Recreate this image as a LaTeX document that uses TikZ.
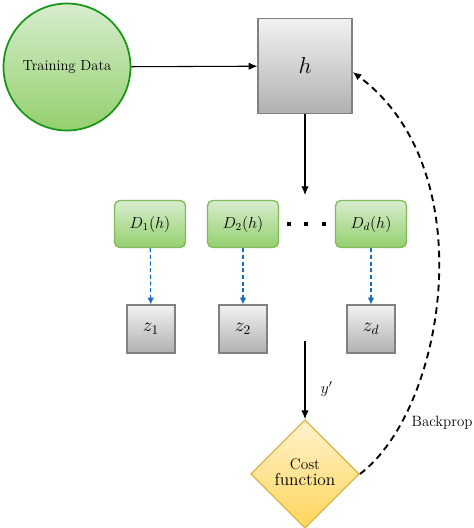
\documentclass[tikz,border=0pt]{standalone}
\usepackage{amsmath}
\usepackage{tikz}
\usetikzlibrary{shapes,shapes.geometric,arrows.meta}
\definecolor{leafgreen}{RGB}{20,150,20}
\definecolor{mossgreen}{RGB}{130,185,90}
\definecolor{depthblue}{RGB}{20,110,190}
\definecolor{costgold}{RGB}{215,180,70}
\definecolor{paletop}{RGB}{215,236,205}
\definecolor{greenbot}{RGB}{148,208,110}
\definecolor{yellowtop}{RGB}{255,242,205}
\definecolor{yellowbot}{RGB}{255,214,90}

\begin{document}
\begin{tikzpicture}[x=0.75pt,y=-0.75pt,font=\normalsize,
	databall/.style={circle,draw=leafgreen,line width=1.3pt,minimum size=127pt*0.75,inner sep=0pt,top color=paletop,bottom color=greenbot},
	graybox/.style={draw=gray,line width=1pt,top color=gray!10!white,bottom color=gray!62!white,inner sep=0pt},
	depthbox/.style={rectangle,rounded corners=4pt,draw=mossgreen,line width=1pt,top color=paletop,bottom color=greenbot,minimum width=71*0.75pt,minimum height=47*0.75pt,inner sep=0pt},
	costdiam/.style={diamond,draw=costgold,line width=1pt,top color=yellowtop,bottom color=yellowbot,minimum width=105*0.75pt,minimum height=107*0.75pt,inner sep=0pt,aspect=1},
	bigtip/.style={-{Latex[length=6.5pt,width=5.5pt]}},
	zdash/.style={-{Latex[length=5pt,width=5pt]},densely dashed,depthblue,thick}]
	\useasboundingbox (0,0) rectangle (474,528);

	% draw data and model
	\node[databall] (data) at (67,67) {\fontsize{11}{13}\selectfont Training Data};
	\node[graybox,minimum width=94*0.75pt,minimum height=95*0.75pt] (hbox) at (305,66) {\LARGE $h$};

	% draw depth nodes
	\node[depthbox] (D1) at (150,224) {\large $D_1(h)$};
	\node[depthbox] (D2) at (243,224) {\large $D_2(h)$};
	\node[depthbox] (Dd) at (371,224) {\large $D_d(h)$};
	\draw[line width=3pt,dash pattern=on 3pt off 10pt] (287,224) -- (328,224);

	% draw outputs
	\node[graybox,minimum size=48*0.75pt] (z1) at (151,329) {\Large $z_1$};
	\node[graybox,minimum size=48*0.75pt] (z2) at (243,329) {\Large $z_2$};
	\node[graybox,minimum size=48*0.75pt] (zd) at (371,329) {\Large $z_d$};

	% draw cost
	\node[costdiam] (cost) at (305,474) {\begin{tabular}{c}\fontsize{11.5}{13}\selectfont Cost\\[-1pt]\fontsize{13}{15}\selectfont function\end{tabular}};
	\coordinate (hend) at (305,195);
	\coordinate (ystart) at (305,341);

	% draw arrows
	\draw[bigtip,thick] (data) -- (hbox);
	\draw[bigtip,thick] (hbox) -- (hend);
	\draw[zdash] (D1) -- (z1);
	\draw[zdash] (D2) -- (z2);
	\draw[zdash] (Dd) -- (zd);
	\draw[bigtip,thick] (ystart) -- (cost.north) node[pos=0.62,right=8pt] {\large $y'$};
	\draw[bigtip,line width=1.4pt,dash pattern=on 5pt off 3.5pt] (cost.east) .. controls (445,410) and (485,170) .. (hbox.east|-305,72);
	\node[anchor=west] (backprop) at (407,423) {\fontsize{11.2}{13}\selectfont Backprop};
\end{tikzpicture}
\end{document}
